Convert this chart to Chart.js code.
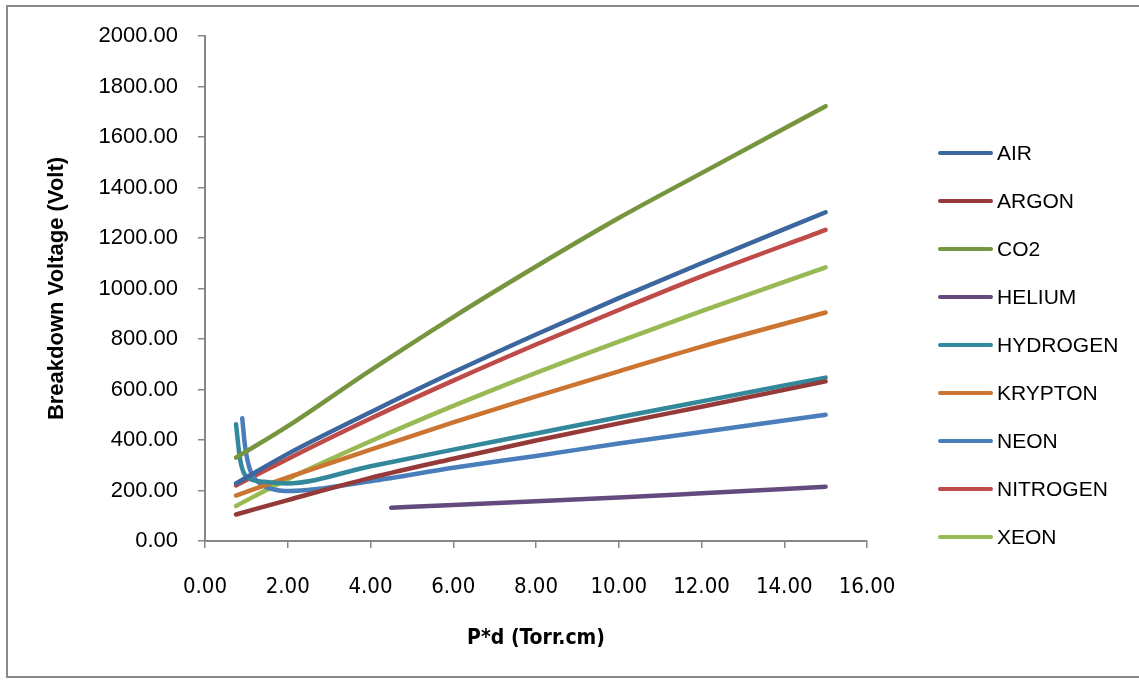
<!DOCTYPE html>
<html>
<head>
<meta charset="utf-8">
<script src="https://cdn.jsdelivr.net/npm/chart.js@4.4.1/dist/chart.umd.min.js"></script>
<style>
    html, body { margin: 0; padding: 0; background: #fff; }
    #wrap { position: relative; width: 1139px; height: 681px; overflow: hidden; }
    #frame {
        position: absolute; left: 6px; top: 5px; width: 1160px; height: 673px;
        border: 2px solid #8a8a8a; box-sizing: border-box;
    }
    #paschenChart { position: absolute; left: 0; top: 0; }
    #legend { position: absolute; left: 938px; top: 129px; font-family: 'Liberation Sans', Arial, sans-serif; font-size: 21px; color: #000; }
    .leg-item { display: flex; align-items: center; height: 48px; }
    .leg-line { width: 55px; height: 4px; border-radius: 2px; margin-right: 4px; }
</style>
</head>
<body>
<div id="wrap">
    <div id="frame"></div>
    <canvas id="paschenChart" width="1139" height="681"></canvas>
    <div id="legend"></div>
</div>
<script>
// --- DATA ---
const pdCommon = [0.75, 2, 4, 6, 8, 10, 12, 15];

const airVolts      = [228, 345, 510, 668, 818, 962, 1100, 1302];
const argonVolts    = [105, 162, 250, 326, 398, 466, 532, 632];
const co2Volts      = [330, 455, 676, 887, 1087, 1279, 1457, 1722];
const kryptonVolts  = [180, 252, 362, 470, 573, 672, 770, 905];
const nitrogenVolts = [220, 325, 485, 635, 778, 915, 1048, 1232];
const xeonVolts     = [139, 245, 395, 535, 666, 790, 910, 1084];

const heliumPd    = [4.5, 6, 8, 10, 12, 15];
const heliumVolts = [132, 143, 157, 172, 189, 215];

const hydrogenPd    = [0.75, 0.85, 1.0, 1.41, 1.97, 4, 6, 8, 10, 12, 15];
const hydrogenVolts = [462, 321, 255, 235, 228, 296, 362, 426, 490, 553, 647];

const neonPd    = [0.9, 0.97, 1.09, 1.33, 1.73, 2.05, 4, 6, 8, 10, 12, 15];
const neonVolts = [486, 373, 281, 228, 202, 198, 237, 290, 337, 386, 432, 500];

const xTicks = [0, 2, 4, 6, 8, 10, 12, 14, 16];

// series order matches the legend
const gases = [
    { label: 'AIR',      pd: pdCommon,   volts: airVolts,      color: '#3C679E' },
    { label: 'ARGON',    pd: pdCommon,   volts: argonVolts,    color: '#953A39' },
    { label: 'CO2',      pd: pdCommon,   volts: co2Volts,      color: '#77943E' },
    { label: 'HELIUM',   pd: heliumPd,   volts: heliumVolts,   color: '#634B7F' },
    { label: 'HYDROGEN', pd: hydrogenPd, volts: hydrogenVolts, color: '#33889B' },
    { label: 'KRYPTON',  pd: pdCommon,   volts: kryptonVolts,  color: '#CC7431' },
    { label: 'NEON',     pd: neonPd,     volts: neonVolts,     color: '#4A7EBB' },
    { label: 'NITROGEN', pd: pdCommon,   volts: nitrogenVolts, color: '#BE4B48' },
    { label: 'XEON',     pd: pdCommon,   volts: xeonVolts,     color: '#98B954' }
];

const axisGray = '#868686';

const chart = new Chart(document.getElementById('paschenChart').getContext('2d'), {
    type: 'scatter',
    data: {
        datasets: gases.map(g => ({
            label: g.label,
            data: g.pd.map((x, i) => ({ x: x, y: g.volts[i] })),
            showLine: true,
            borderColor: g.color,
            backgroundColor: g.color,
            borderWidth: 4.5,
            borderCapStyle: 'round',
            pointRadius: 0,
            pointHoverRadius: 0,
            cubicInterpolationMode: 'monotone'
        }))
    },
    options: {
        responsive: false,
        animation: false,
        layout: { padding: { top: 36, right: 272, bottom: 0, left: 0 } },
        plugins: { legend: { display: false }, tooltip: { enabled: false } },
        scales: {
            x: {
                type: 'linear', min: 0, max: 16,
                afterBuildTicks: s => { s.ticks = xTicks.map(v => ({ value: v })); },
                afterFit: s => { s.height = 140; },
                grid: { drawOnChartArea: false, drawTicks: true, tickLength: 7, color: axisGray, lineWidth: 1.5 },
                border: { color: axisGray, width: 2 },
                ticks: {
                    padding: 26, maxRotation: 0, color: '#000',
                    font: { family: "'Liberation Sans Narrow', 'DejaVu Sans Condensed', sans-serif", size: 22 },
                    callback: v => Number(v).toFixed(2)
                },
                title: {
                    display: true, text: 'P*d (Torr.cm)', color: '#000',
                    font: { family: "'Liberation Sans Narrow', 'DejaVu Sans Condensed', sans-serif", size: 21, weight: 'bold' },
                    padding: { top: 0, bottom: 30 }
                }
            },
            y: {
                type: 'linear', min: 0, max: 2000,
                afterFit: s => { s.width = 205; },
                grid: { drawOnChartArea: false, drawTicks: true, tickLength: 7, color: axisGray, lineWidth: 1.5 },
                border: { color: axisGray, width: 2 },
                ticks: {
                    stepSize: 200, padding: 20, color: '#000',
                    font: { family: "'Liberation Sans', Arial, sans-serif", size: 22 },
                    callback: v => Number(v).toFixed(2)
                },
                title: {
                    display: true, text: 'Breakdown Voltage (Volt)', color: '#000',
                    font: { family: "'Liberation Sans', Arial, sans-serif", size: 22, weight: 'bold' },
                    padding: { top: 44, bottom: 0 }
                }
            }
        }
    }
});

// --- HTML LEGEND built from the chart's datasets ---
const legendBox = document.getElementById('legend');
chart.data.datasets.forEach(ds => {
    const item = document.createElement('div');
    item.className = 'leg-item';
    const swatch = document.createElement('span');
    swatch.className = 'leg-line';
    swatch.style.background = ds.borderColor;
    const text = document.createElement('span');
    text.textContent = ds.label;
    item.appendChild(swatch);
    item.appendChild(text);
    legendBox.appendChild(item);
});
</script>
</body>
</html>
